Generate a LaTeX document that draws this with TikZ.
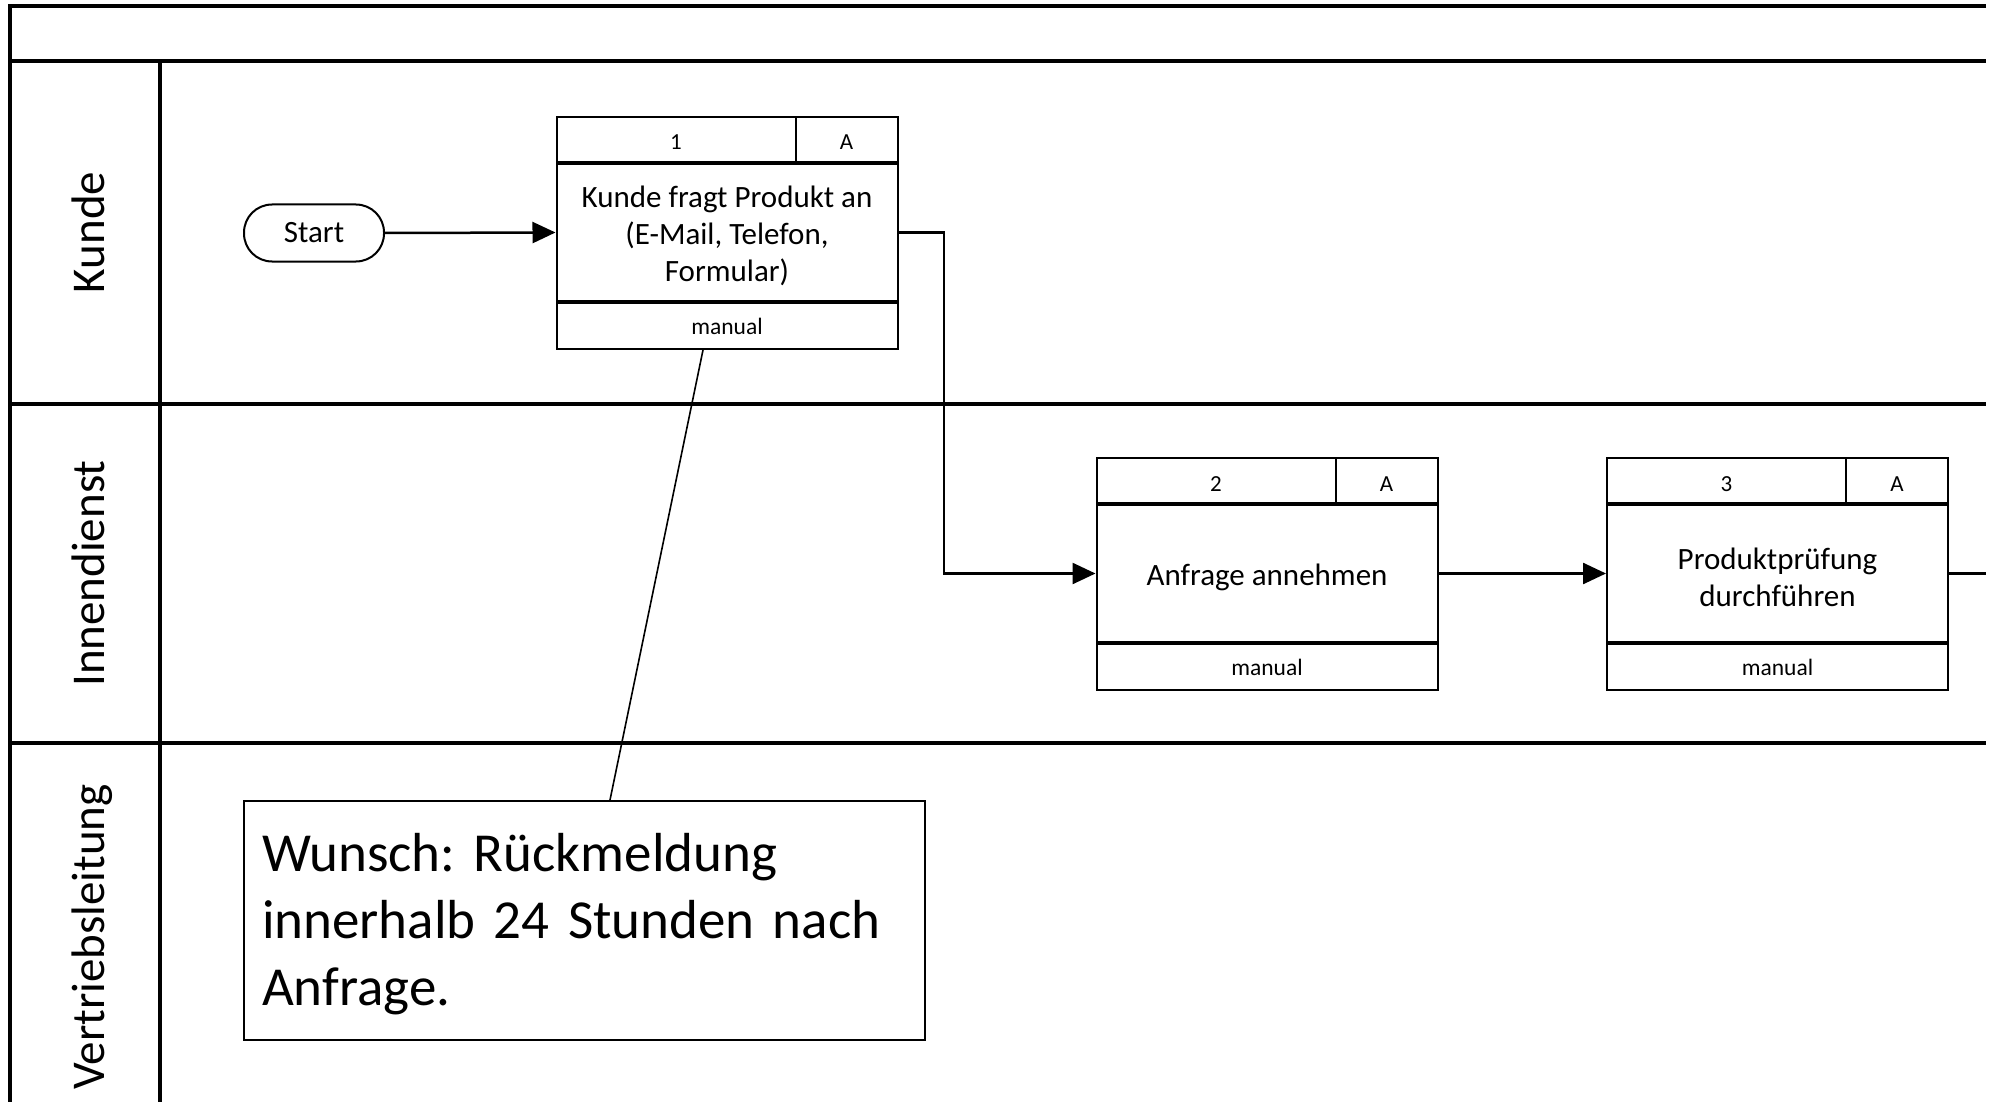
\documentclass[tikz,border=0pt]{standalone}
\usepackage{fontspec}
\setmainfont{Carlito}
\usetikzlibrary{arrows.meta}
\newcommand\toppad{\rule{0pt}{29pt}}
\newcommand\notepad{\rule{0pt}{45pt}}
\begin{document}
\frenchspacing
\begin{tikzpicture}[x=1pt,y=-1pt,
  lane/.style={line width=3.2pt},
  body/.style={draw,line width=2pt,minimum width=341pt,minimum height=137pt,inner sep=0pt,align=center,font=\fontsize{31}{37}\selectfont},
  hdrl/.style={draw,line width=2pt,minimum width=239pt,minimum height=45pt,inner sep=0pt,text height=21pt,text depth=0pt,font=\fontsize{23}{27}\selectfont},
  hdrr/.style={hdrl,minimum width=102pt},
  ftr/.style={draw,line width=2pt,minimum width=341pt,minimum height=46pt,inner sep=0pt,font=\fontsize{23.5}{28}\selectfont},
  flow/.style={line width=2.5pt,-{Triangle[length=23pt,width=21pt]}},
  plainline/.style={line width=2.5pt},
  lanelabel/.style={rotate=90,anchor=base,inner sep=0pt,font=\fontsize{47}{56}\selectfont},
  startnode/.style={draw,line width=2pt,rounded corners=28pt,minimum width=140pt,minimum height=57pt,inner sep=0pt,font=\fontsize{31}{37}\selectfont},
  notebox/.style={draw,line width=2pt,minimum width=681pt,minimum height=239pt,text width=645pt,align=left,inner xsep=18pt,inner ysep=0pt,font=\fontsize{55}{67}\selectfont}
]
\useasboundingbox (0,0) rectangle (1994,1102);

% swimlane frame
\draw[lane] (1986,6) -- (10,6) -- (10,1102);
\draw[lane] (10,61) -- (1986,61);
\draw[lane] (160,61) -- (160,1102);
\draw[lane] (10,404) -- (1986,404);
\draw[lane] (10,743) -- (1986,743);

% lane labels
\node[lanelabel] (lk) at (104,232.5) {Kunde};
\node[lanelabel] (li) at (104,573.5) {Innendienst};
\node[lanelabel] (lv) at (104,937) {Vertriebsleitung};

% start
\node[startnode] (start) at (314,233) {Start};

% process 1
\node[body] (b1) at (727,232.5) {\toppad Kunde fragt Produkt an\\(E-Mail, Telefon,\\Formular)};
\node[hdrl,anchor=south west] (b1h) at (b1.north west) {1};
\node[hdrr,anchor=south east] (b1a) at (b1.north east) {A};
\node[ftr,anchor=north] (b1f) at (b1.south) {manual};

% process 2
\node[body] (b2) at (1267,573.5) {\toppad Anfrage annehmen};
\node[hdrl,anchor=south west] (b2h) at (b2.north west) {2};
\node[hdrr,anchor=south east] (b2a) at (b2.north east) {A};
\node[ftr,anchor=north] (b2f) at (b2.south) {manual};

% process 3
\node[body] (b3) at (1777.5,573.5) {\toppad Produktprüfung\\durchführen};
\node[hdrl,anchor=south west] (b3h) at (b3.north west) {3};
\node[hdrr,anchor=south east] (b3a) at (b3.north east) {A};
\node[ftr,anchor=north] (b3f) at (b3.south) {manual};

% note
\node[notebox] (note) at (584.5,920.5) {\notepad Wunsch: Rückmeldung\\innerhalb 24 Stunden nach\\Anfrage.};

% connectors
\draw[flow] (start.east) -- (b1.west);
\coordinate (elbow) at (944,573.5);
\draw[flow] (b1.east) -| (elbow) -- (b2.west);
\draw[flow] (b2.east) -- (b3.west);
\coordinate (exit) at (1986,573.5);
\draw[plainline] (b3.east) -- (exit);
\draw[line width=1.6pt] ([xshift=25.5pt]note.north) -- ([xshift=-24pt]b1f.south);
\end{tikzpicture}
\end{document}
